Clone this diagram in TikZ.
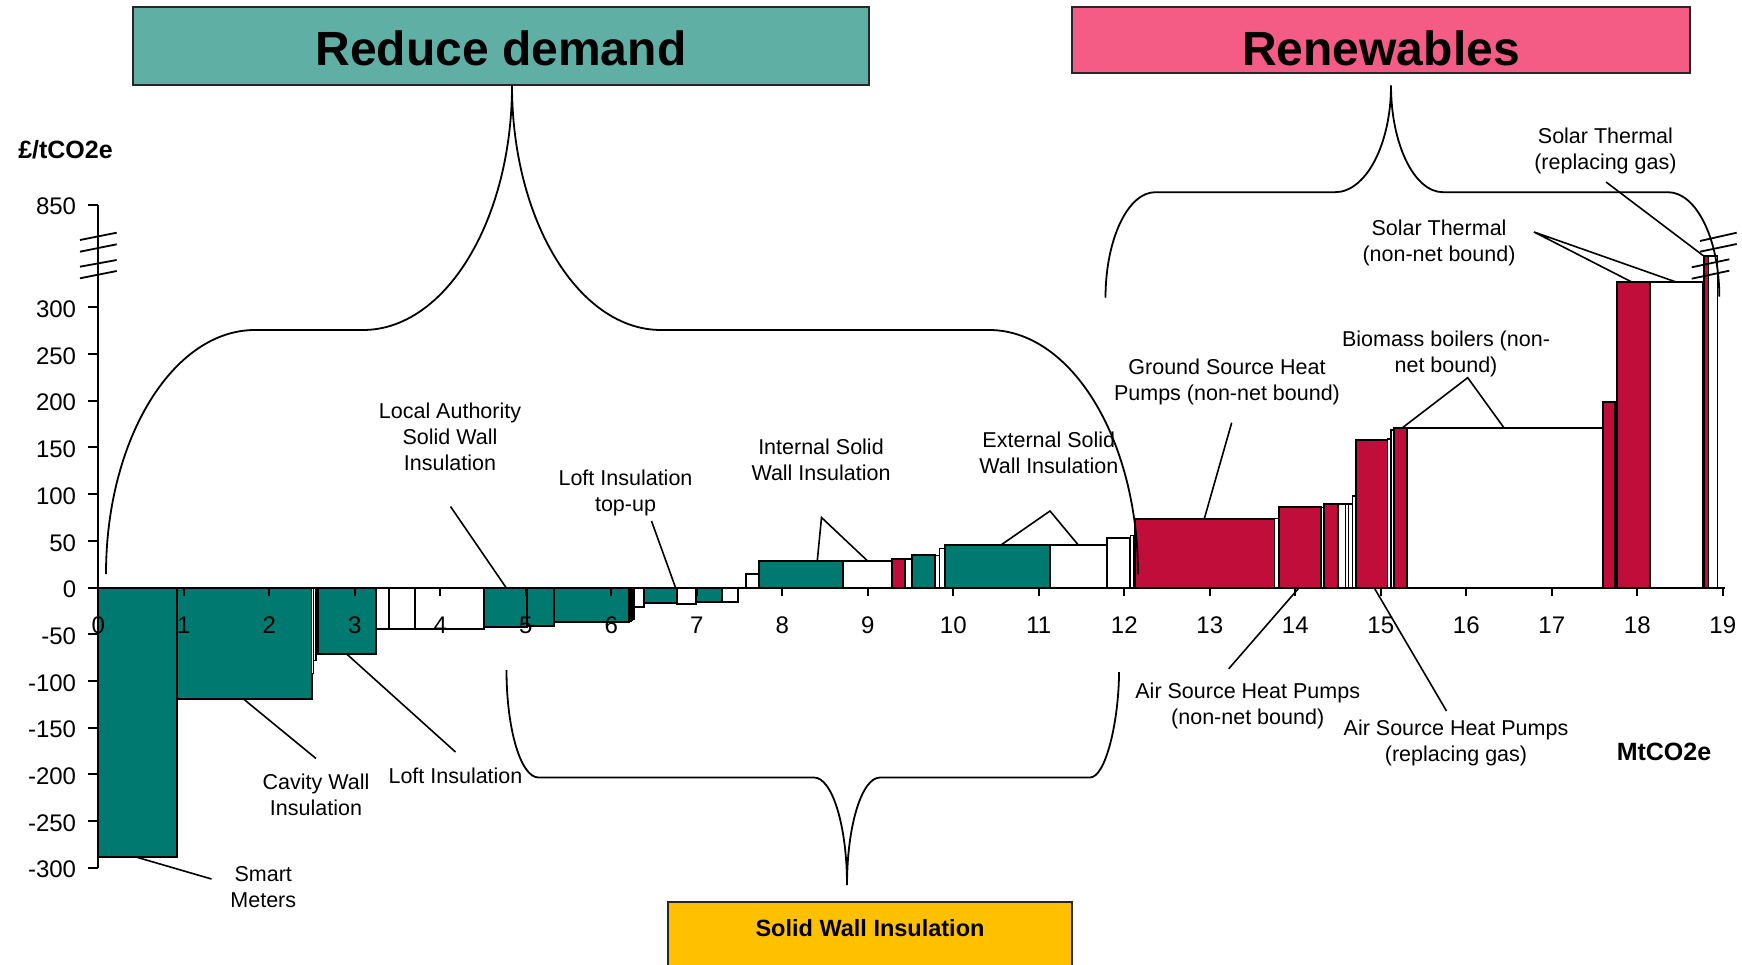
\documentclass[tikz,border=0pt]{standalone}
\usepackage{fontspec}
\setmainfont{Liberation Sans}
\definecolor{demandfill}{RGB}{95,175,165}
\definecolor{renewfill}{RGB}{244,91,133}
\definecolor{swifill}{RGB}{255,192,0}
\definecolor{greenfill}{RGB}{0,122,112}
\definecolor{redfill}{RGB}{193,13,58}

\tikzset{
  barline/.style={draw=black, line width=2pt},
  gbar/.style={barline, fill=greenfill},
  rbar/.style={barline, fill=redfill},
  wbar/.style={barline, fill=white},
  twbar/.style={wbar, line width=1.3pt},
  trbar/.style={rbar, line width=1.3pt},
  lbl/.style={font=\fontsize{21.5}{26}\selectfont, align=center, inner sep=0pt, yshift=-3pt},
  axlbl/.style={font=\fontsize{24}{28}\selectfont, inner sep=0pt},
  unitlbl/.style={font=\fontsize{25}{30}\selectfont\bfseries, inner sep=0pt},
  leader/.style={line width=1.6pt},
  brace/.style={line width=1.8pt},
  axisline/.style={line width=2pt},
  breakmark/.style={line width=1.8pt},
  headbox/.style={draw=black!85, line width=2pt, inner sep=0pt},
  headtext/.style={font=\fontsize{48}{56}\selectfont\bfseries, inner sep=0pt, anchor=base},
}
% one bar of the cost curve: from x1 to x2 (MtCO2e), height in GBP/tCO2e
\newcommand{\maccbar}[4]{\draw[#4] (#1,0) rectangle (#2,#3);}

\begin{document}
\begin{tikzpicture}[x=1pt,y=-1pt]
\useasboundingbox (0,0) rectangle (1742,965);
\clip (0,0) rectangle (1742,965);
\fill[white] (0,0) rectangle (1742,965);

% ---------- heading boxes ----------
\node[headbox, fill=demandfill, minimum width=735.5pt, minimum height=78.8pt] (demand) at (501,46.1) {};
\node[headtext] (demandtext) at (501,65.5) {Reduce demand};
\node[headbox, fill=renewfill, minimum width=618pt, minimum height=66.6pt] (renew) at (1381,40) {};
\node[headtext] (renewtext) at (1381,65.5) {Renewables};
\draw[draw=black!85, line width=2pt, fill=swifill] (667.7,902) rectangle (1072,1010);
\node[font=\fontsize{23.5}{28}\selectfont\bfseries, inner sep=0pt] (swi) at (870,928) {Solid Wall Insulation};

% ---------- cost curve ----------
\begin{scope}[shift={(98.3,587.5)}, x=85.5pt, y=0.934pt]
  % measures with negative cost
  \maccbar{0}{0.924}{-288}{gbar}
  \maccbar{0.924}{2.496}{-119.4}{gbar}
  \maccbar{2.496}{2.52}{-92}{twbar}
  \maccbar{2.52}{2.545}{-78}{twbar}
  \maccbar{2.545}{2.574}{-72}{twbar}
  \maccbar{2.574}{3.248}{-71.2}{gbar}
  \maccbar{3.248}{3.40}{-44.7}{wbar}
  \maccbar{3.40}{3.70}{-44.7}{wbar}
  \maccbar{3.70}{4.51}{-44.7}{wbar}
  \maccbar{4.51}{5.01}{-42}{gbar}
  \maccbar{5.01}{5.33}{-41}{gbar}
  \maccbar{5.33}{6.21}{-37.3}{gbar}
  \maccbar{6.21}{6.23}{-36}{twbar}
  \maccbar{6.23}{6.25}{-35}{twbar}
  \maccbar{6.25}{6.265}{-34}{twbar}
  \maccbar{6.265}{6.38}{-21.2}{wbar}
  \maccbar{6.38}{6.765}{-17}{gbar}
  \maccbar{6.765}{6.99}{-17.7}{wbar}
  \maccbar{6.99}{7.30}{-15.2}{gbar}
  \maccbar{7.30}{7.485}{-15.2}{wbar}
  % measures with positive cost
  \maccbar{7.575}{7.73}{14.4}{wbar}
  \maccbar{7.73}{8.71}{28.7}{gbar}
  \maccbar{8.71}{9.28}{28.7}{wbar}
  \maccbar{9.28}{9.43}{30.8}{rbar}
  \maccbar{9.43}{9.52}{30}{wbar}
  \maccbar{9.52}{9.79}{34.5}{gbar}
  \maccbar{9.79}{9.84}{34.5}{twbar}
  \maccbar{9.84}{9.90}{41.5}{twbar}
  \maccbar{9.90}{11.13}{45.5}{gbar}
  \maccbar{11.13}{11.80}{45.5}{wbar}
  \maccbar{11.80}{12.07}{52.5}{wbar}
  \maccbar{12.07}{12.105}{56}{twbar}
  \maccbar{12.12}{13.76}{73.8}{rbar}
  \maccbar{13.76}{13.81}{73.8}{twbar}
  \maccbar{13.81}{14.30}{86}{rbar}
  \maccbar{14.30}{14.33}{86}{twbar}
  \maccbar{14.33}{14.50}{89.5}{rbar}
  \maccbar{14.50}{14.59}{89.5}{wbar}
  \maccbar{14.59}{14.62}{89.5}{twbar}
  \maccbar{14.62}{14.67}{89.5}{twbar}
  \maccbar{14.67}{14.71}{98}{twbar}
  \maccbar{14.71}{15.08}{158}{rbar}
  \maccbar{15.08}{15.12}{159}{twbar}
  \maccbar{15.12}{15.15}{168.6}{twbar}
  \maccbar{15.15}{15.31}{170.4}{rbar}
  \maccbar{15.31}{17.595}{170.5}{wbar}
  \maccbar{17.595}{17.74}{198.3}{rbar}
  \maccbar{17.76}{18.15}{326.8}{rbar}
  \maccbar{18.15}{18.765}{326.8}{wbar}
  \maccbar{18.78}{18.83}{355}{trbar}
  \maccbar{18.83}{18.94}{355}{twbar}

  % axes
  \draw[axisline] (0,410) -- (0,-300);
  \draw[axisline] (0,0) -- (19.03,0);
  \foreach \v in {-300,-250,...,300}{
    \draw[axisline] (0,\v) -- ++(-10pt,0);
    \node[axlbl, anchor=east, xshift=-22pt, yshift=-2pt] (yl\v) at (0,\v) {\v};
  }
  \draw[axisline] (0,410) -- ++(-10pt,0);
  \node[axlbl, anchor=east, xshift=-22pt, yshift=-1.5pt] (yl850) at (0,410) {850};
  \foreach \i in {0,...,19}{
    \draw[axisline] (\i,0) -- ++(0,-8pt);
    \node[axlbl, yshift=-37.5pt] (xl\i) at (\i,0) {\i};
  }
\end{scope}

% axis breaks
\draw[breakmark] (80,240) -- (116.7,232.7);
\draw[breakmark] (80,251.7) -- (116.7,244.3);
\draw[breakmark] (80,266.7) -- (116.7,260);
\draw[breakmark] (80,278.3) -- (116.7,271);
\draw[breakmark] (1700,241) -- (1736.7,232.7);
\draw[breakmark] (1700,251.7) -- (1736.7,244);
\draw[breakmark] (1691.7,267.3) -- (1729.3,259.3);
\draw[breakmark] (1691.7,278.7) -- (1729.3,270.7);

% axis titles
\node[unitlbl] (ytitle) at (65.5,150) {£/tCO2e};
\node[unitlbl] (xtitle) at (1664,752) {MtCO2e};

% ---------- braces ----------
\draw[brace] (106,574) .. controls (106,439.3) and (172.8,330) .. (255,330)
  -- (363,330) .. controls (445.2,330) and (512,220.5) .. (512,85.5)
  .. controls (512,220.5) and (578.8,330) .. (661,330)
  -- (989,330) .. controls (1071.2,330) and (1138,439.3) .. (1138,574);
\draw[brace] (1105.5,297.7) .. controls (1105.5,239.5) and (1127.8,192.2) .. (1155.3,192.2)
  -- (1335,192.2) .. controls (1365.9,192.2) and (1391,144.4) .. (1391,85.5)
  .. controls (1391,144.4) and (1414.3,192.2) .. (1443,192.2)
  -- (1668,192.2) .. controls (1696.2,192.2) and (1719.3,239) .. (1719.3,296.7);
\draw[brace] (506.5,670) .. controls (506.5,729.3) and (520.8,777.5) .. (538.5,777.5)
  -- (814,777.5) .. controls (832.2,777.5) and (847,825.7) .. (847,885)
  .. controls (847,825.7) and (861.8,777.5) .. (880,777.5)
  -- (1090,777.5) .. controls (1106,777.5) and (1119,719.3) .. (1119,672);

% ---------- labels ----------
\node[lbl] (smart) at (263.3,884.5) {Smart\\Meters};
\node[lbl] (cavity) at (316,792) {Cavity Wall\\Insulation};
\node[lbl] (loft) at (455.5,772.4) {Loft Insulation};
\node[lbl] (lasw) at (450,433.4) {Local Authority\\Solid Wall\\Insulation};
\node[lbl] (topup) at (625.5,490) {Loft Insulation\\top-up};
\node[lbl] (intsw) at (821,457) {Internal Solid\\Wall Insulation};
\node[lbl] (extsw) at (1048.8,450) {External Solid\\Wall Insulation};
\node[lbl] (gshp) at (1227,379) {Ground Source Heat\\Pumps (non-net bound)};
\node[lbl] (bio) at (1446,351) {Biomass boilers (non-\\net bound)};
\node[lbl] (stnet) at (1439,240) {Solar Thermal\\(non-net bound)};
\node[lbl] (stgas) at (1605.4,148) {Solar Thermal\\(replacing gas)};
\node[lbl] (ashp) at (1247.7,703) {Air Source Heat Pumps\\(non-net bound)};
\node[lbl] (ashpgas) at (1456,740) {Air Source Heat Pumps\\(replacing gas)};

% ---------- leader lines ----------
\coordinate (smartA) at (136,857);     \coordinate (smartB) at (211.5,879);
\coordinate (cavA) at (243.5,699);     \coordinate (cavB) at (316,758.5);
\coordinate (loftA) at (346.7,654);    \coordinate (loftB) at (455.5,752);
\coordinate (laA) at (450.5,506.5);    \coordinate (laB) at (506,587.5);
\coordinate (topA) at (651.5,521);     \coordinate (topB) at (675.5,587.5);
\coordinate (intP) at (821.5,517.5);   \coordinate (intA) at (817.3,560.7); \coordinate (intB) at (867.3,560.7);
\coordinate (extP) at (1050,511);      \coordinate (extA) at (1001,545);    \coordinate (extB) at (1078.3,545);
\coordinate (gsA) at (1231.7,422.7);   \coordinate (gsB) at (1204.3,518.7);
\coordinate (bioP) at (1467.7,377.7);  \coordinate (bioA) at (1401.7,428.3); \coordinate (bioB) at (1504.3,428.3);
\coordinate (stnP) at (1534,232);      \coordinate (stnA) at (1631.7,282);  \coordinate (stnB) at (1676,282);
\coordinate (strA) at (1606,182);      \coordinate (strB) at (1705,257);
\coordinate (ashA) at (1228.7,668.8);  \coordinate (ashB) at (1299.3,587.5);
\coordinate (ashgA) at (1374,587.5);   \coordinate (ashgB) at (1446.5,711);

\draw[leader] (smartA) -- (smartB);
\draw[leader] (cavA) -- (cavB);
\draw[leader] (loftA) -- (loftB);
\draw[leader] (laA) -- (laB);
\draw[leader] (topA) -- (topB);
\draw[leader] (intA) -- (intP) -- (intB);
\draw[leader] (extA) -- (extP) -- (extB);
\draw[leader] (gsA) -- (gsB);
\draw[leader] (bioA) -- (bioP) -- (bioB);
\draw[leader] (stnA) -- (stnP) -- (stnB);
\draw[leader] (strA) -- (strB);
\draw[leader] (ashA) -- (ashB);
\draw[leader] (ashgA) -- (ashgB);
\end{tikzpicture}
\end{document}
